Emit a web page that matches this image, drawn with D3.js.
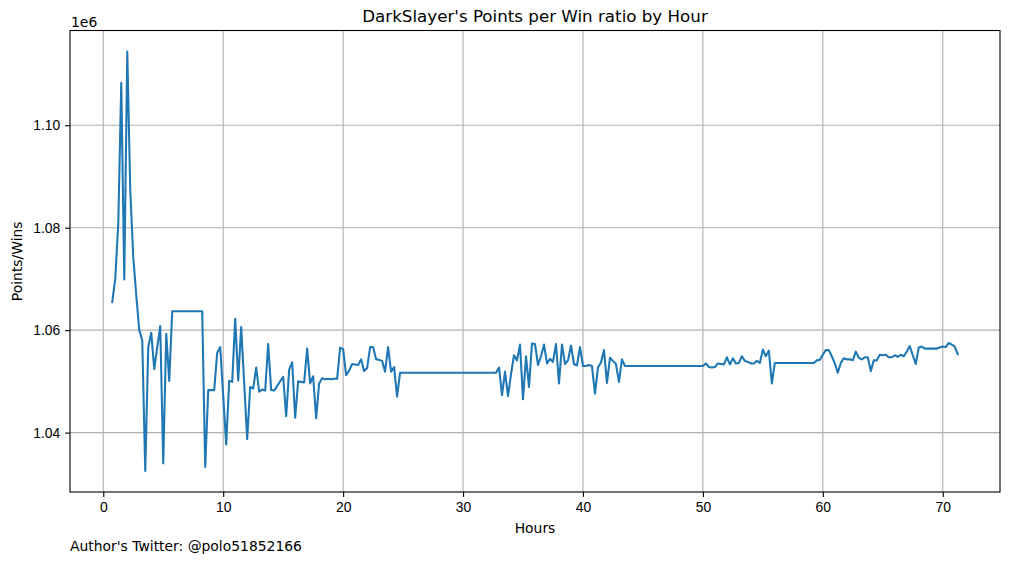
<!DOCTYPE html>
<html>
<head>
<meta charset="utf-8">
<script src="https://cdn.jsdelivr.net/npm/d3@7"></script>
<style>
  body { margin: 0; background: #fff; }
  svg { display: block; font-family: 'DejaVu Sans', sans-serif; }
  .tick text { font-size: 13.9px; fill: #000; }
</style>
</head>
<body>
<div id="chart"></div>
<script>
// hours since start (15 min samples, flat stretches kept as end points)
const hours = [
  0.75, 1.0, 1.25, 1.5, 1.75, 2.0, 2.25, 2.5, 2.75, 3.0, 3.25, 3.5, 3.75, 4.0, 4.25, 4.5, 4.75,
  5.0, 5.25, 5.5, 5.75, 8.25, 8.5, 8.75, 9.0, 9.25, 9.5, 9.75, 10.25, 10.5, 10.75, 11.0, 11.25,
  11.5, 12.0, 12.25, 12.5, 12.75, 13.0, 13.25, 13.5, 13.75, 14.0, 14.25, 15.0, 15.25, 15.5, 15.75,
  16.0, 16.25, 16.75, 17.0, 17.25, 17.5, 17.75, 18.0, 18.25, 18.5, 18.75, 19.0, 19.25, 19.5, 19.75,
  20.0, 20.25, 20.5, 20.75, 21.0, 21.25, 21.5, 21.75, 22.0, 22.25, 22.5, 22.75, 23.0, 23.25, 23.5,
  23.75, 24.0, 24.25, 24.5, 24.75, 32.75, 33.0, 33.25, 33.5, 33.75, 34.0, 34.25, 34.5, 34.75, 35.0,
  35.25, 35.5, 35.75, 36.0, 36.25, 36.5, 36.75, 37.0, 37.25, 37.5, 37.75, 38.0, 38.25, 38.5, 38.75,
  39.0, 39.25, 39.5, 39.75, 40.0, 40.25, 40.5, 40.75, 41.0, 41.25, 41.5, 41.75, 42.0, 42.25, 42.5,
  42.75, 43.0, 43.25, 43.5, 50.0, 50.25, 50.5, 50.75, 51.0, 51.25, 51.5, 51.75, 52.0, 52.25, 52.5,
  52.75, 53.0, 53.25, 53.5, 53.75, 54.0, 54.25, 54.5, 54.75, 55.0, 55.25, 55.5, 55.75, 56.0, 59.25,
  59.5, 59.75, 60.0, 60.25, 60.5, 60.75, 61.0, 61.25, 61.5, 61.75, 62.0, 62.25, 62.5, 62.75, 63.0,
  63.25, 63.5, 63.75, 64.0, 64.25, 64.5, 64.75, 65.0, 65.25, 65.5, 65.75, 66.0, 66.25, 66.5, 66.75,
  67.0, 67.25, 67.5, 67.75, 68.0, 68.25, 68.5, 69.5, 69.75, 70.0, 70.25, 70.5, 70.75, 71.0, 71.25
];

// points / wins, in millions
const ratio = [
  1.0655, 1.0701, 1.0808, 1.1083, 1.0699, 1.1144, 1.0873, 1.0743, 1.0668, 1.0600, 1.0580, 1.0325,
  1.0567, 1.0595, 1.0524, 1.0567, 1.0608, 1.0340, 1.0593, 1.0501, 1.0637, 1.0637, 1.0333, 1.0483,
  1.0483, 1.0483, 1.0556, 1.0567, 1.0377, 1.0501, 1.0499, 1.0622, 1.0502, 1.0606, 1.0387, 1.0489,
  1.0486, 1.0527, 1.0480, 1.0484, 1.0482, 1.0573, 1.0483, 1.0482, 1.0509, 1.0432, 1.0523, 1.0537,
  1.0429, 1.0500, 1.0498, 1.0564, 1.0496, 1.0510, 1.0428, 1.0496, 1.0506, 1.0504, 1.0505, 1.0504,
  1.0505, 1.0505, 1.0566, 1.0563, 1.0512, 1.0521, 1.0534, 1.0533, 1.0532, 1.0543, 1.0520, 1.0526,
  1.0567, 1.0567, 1.0543, 1.0542, 1.0540, 1.0519, 1.0567, 1.0519, 1.0528, 1.0470, 1.0517, 1.0517,
  1.0527, 1.0473, 1.0519, 1.0471, 1.0514, 1.0551, 1.0541, 1.0572, 1.0465, 1.0549, 1.0489, 1.0574,
  1.0573, 1.0532, 1.0549, 1.0572, 1.0535, 1.0544, 1.0538, 1.0573, 1.0496, 1.0572, 1.0534, 1.0541,
  1.0570, 1.0534, 1.0531, 1.0567, 1.0530, 1.0530, 1.0532, 1.0530, 1.0476, 1.0527, 1.0537, 1.0561,
  1.0497, 1.0546, 1.0540, 1.0534, 1.0499, 1.0543, 1.0530, 1.0530, 1.0535, 1.0528, 1.0527, 1.0528,
  1.0535, 1.0534, 1.0533, 1.0547, 1.0533, 1.0545, 1.0535, 1.0536, 1.0549, 1.0540, 1.0538, 1.0535,
  1.0535, 1.0540, 1.0536, 1.0562, 1.0549, 1.0560, 1.0496, 1.0536, 1.0536, 1.0541, 1.0542, 1.0552,
  1.0561, 1.0561, 1.0549, 1.0535, 1.0517, 1.0536, 1.0545, 1.0543, 1.0543, 1.0541, 1.0558, 1.0546,
  1.0543, 1.0547, 1.0547, 1.0520, 1.0541, 1.0541, 1.0552, 1.0551, 1.0552, 1.0547, 1.0547, 1.0551,
  1.0548, 1.0552, 1.0549, 1.0558, 1.0569, 1.0551, 1.0534, 1.0566, 1.0568, 1.0564, 1.0564, 1.0566,
  1.0568, 1.0567, 1.0575, 1.0572, 1.0568, 1.0553
];

const xTicks = [0, 10, 20, 30, 40, 50, 60, 70];
const yTicks = [1.04, 1.06, 1.08, 1.10];

const w = 1010;
const h = 562;
const margin = {top: 30.5, right: 10, bottom: 70, left: 70};

const svg = d3
  .select('#chart')
  .append('svg')
  .attr('width', w)
  .attr('height', h);

// matplotlib style 5% padding around the data
const xExt = d3.extent(hours);
const yExt = d3.extent(ratio);
const xPad = (xExt[1] - xExt[0]) * 0.05;
const yPad = (yExt[1] - yExt[0]) * 0.05;

const x = d3
  .scaleLinear()
  .domain([xExt[0] - xPad, xExt[1] + xPad])
  .range([margin.left, w - margin.right]);

const y = d3
  .scaleLinear()
  .domain([yExt[0] - yPad, yExt[1] + yPad])
  .range([h - margin.bottom, margin.top]);

const plotLeft = margin.left;
const plotRight = w - margin.right;
const plotTop = margin.top;
const plotBottom = h - margin.bottom;

//grid
svg
  .append('g')
  .selectAll('line')
  .data(xTicks)
  .enter()
  .append('line')
  .attr('x1', d => x(d))
  .attr('x2', d => x(d))
  .attr('y1', plotTop)
  .attr('y2', plotBottom)
  .attr('stroke', '#b0b0b0')
  .attr('stroke-width', 1.1);

svg
  .append('g')
  .selectAll('line')
  .data(yTicks)
  .enter()
  .append('line')
  .attr('x1', plotLeft)
  .attr('x2', plotRight)
  .attr('y1', d => y(d))
  .attr('y2', d => y(d))
  .attr('stroke', '#b0b0b0')
  .attr('stroke-width', 1.1);

//the line
const line = d3
  .line()
  .x((d, i) => x(hours[i]))
  .y(d => y(d));

svg
  .append('path')
  .datum(ratio)
  .attr('d', line)
  .attr('fill', 'none')
  .attr('stroke', '#1f77b4')
  .attr('stroke-width', 2.08)
  .attr('stroke-linejoin', 'round')
  .attr('stroke-linecap', 'square');

//axes
const xAxis = svg
  .append('g')
  .attr('transform', 'translate(0,' + plotBottom + ')')
  .call(
    d3
      .axisBottom(x)
      .tickValues(xTicks)
      .tickFormat(d3.format('d'))
      .tickSize(4.9)
      .tickPadding(4.9),
  );

const yAxis = svg
  .append('g')
  .attr('transform', 'translate(' + plotLeft + ',0)')
  .call(
    d3
      .axisLeft(y)
      .tickValues(yTicks)
      .tickFormat(d3.format('.2f'))
      .tickSize(4.9)
      .tickPadding(4.9),
  );

[xAxis, yAxis].forEach(function(a) {
  a.select('.domain').remove();
  a.selectAll('.tick line').attr('stroke', '#000').attr('stroke-width', 1.1);
});
xAxis.selectAll('.tick text').attr('dy', '0.75em');

//frame
svg
  .append('rect')
  .attr('x', plotLeft)
  .attr('y', plotTop)
  .attr('width', plotRight - plotLeft)
  .attr('height', plotBottom - plotTop)
  .attr('fill', 'none')
  .attr('stroke', '#000')
  .attr('stroke-width', 1.1);

//texts
svg
  .append('text')
  .attr('x', (plotLeft + plotRight) / 2)
  .attr('y', 22)
  .attr('text-anchor', 'middle')
  .attr('font-size', 16.7)
  .text("DarkSlayer's Points per Win ratio by Hour");

svg
  .append('text')
  .attr('x', plotLeft + 1)
  .attr('y', 26.5)
  .attr('font-size', 13.9)
  .text('1e6');

svg
  .append('text')
  .attr('x', (plotLeft + plotRight) / 2)
  .attr('y', 533)
  .attr('text-anchor', 'middle')
  .attr('font-size', 13.9)
  .text('Hours');

svg
  .append('text')
  .attr('transform', 'translate(22,' + (plotTop + plotBottom) / 2 + ')rotate(-90)')
  .attr('text-anchor', 'middle')
  .attr('font-size', 13.9)
  .text('Points/Wins');

svg
  .append('text')
  .attr('x', plotLeft)
  .attr('y', 550.5)
  .attr('font-size', 13.9)
  .text("Author's Twitter: @polo51852166");
</script>
</body>
</html>
